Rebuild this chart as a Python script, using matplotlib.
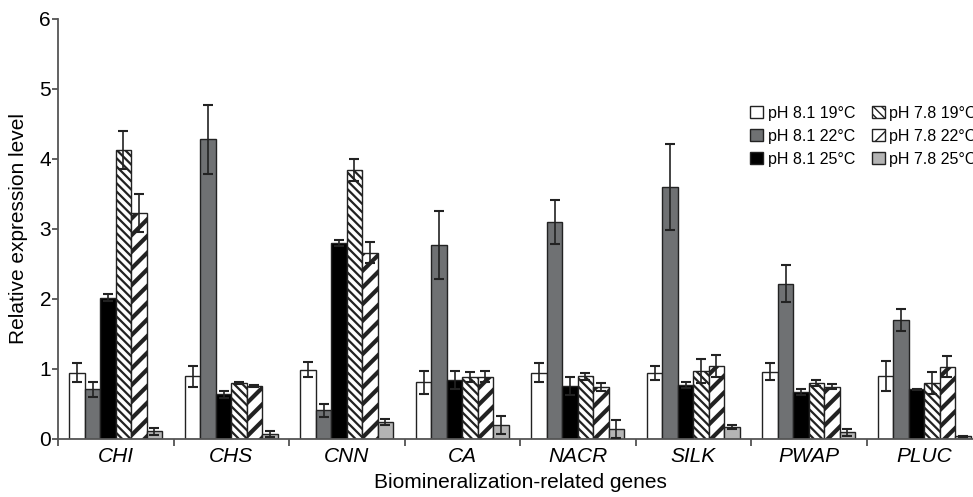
import matplotlib
matplotlib.use("Agg")
import matplotlib.pyplot as plt
import numpy as np

plt.rcParams['font.family'] = ['Liberation Sans', 'DejaVu Sans']

# gene categories
genes = ['CHI', 'CHS', 'CNN', 'CA', 'NACR', 'SILK', 'PWAP', 'PLUC']
labels = ['pH 8.1 19°C', 'pH 8.1 22°C', 'pH 8.1 25°C',
          'pH 7.8 19°C', 'pH 7.8 22°C', 'pH 7.8 25°C']

# mean relative expression per treatment
ph81_19 = [0.95, 0.90, 0.99, 0.81, 0.95, 0.95, 0.96, 0.90]
ph81_22 = [0.71, 4.28, 0.41, 2.77, 3.10, 3.60, 2.22, 1.70]
ph81_25 = [2.02, 0.64, 2.80, 0.84, 0.76, 0.77, 0.67, 0.71]
ph78_19 = [4.13, 0.80, 3.84, 0.89, 0.90, 0.97, 0.80, 0.80]
ph78_22 = [3.23, 0.76, 2.66, 0.89, 0.74, 1.04, 0.75, 1.03]
ph78_25 = [0.11, 0.07, 0.24, 0.20, 0.14, 0.17, 0.10, 0.04]

# error bars
err81_19 = [0.14, 0.15, 0.11, 0.16, 0.14, 0.10, 0.12, 0.22]
err81_22 = [0.11, 0.49, 0.09, 0.49, 0.31, 0.61, 0.26, 0.16]
err81_25 = [0.05, 0.05, 0.04, 0.13, 0.13, 0.04, 0.04, 0.01]
err78_19 = [0.27, 0.01, 0.16, 0.07, 0.05, 0.17, 0.04, 0.16]
err78_22 = [0.27, 0.01, 0.15, 0.08, 0.06, 0.16, 0.03, 0.15]
err78_25 = [0.05, 0.04, 0.04, 0.13, 0.13, 0.03, 0.05, 0.01]

series = [ph81_19, ph81_22, ph81_25, ph78_19, ph78_22, ph78_25]
errors = [err81_19, err81_22, err81_25, err78_19, err78_22, err78_25]
colors = ['white', '#6f7173', 'black', 'white', 'white', '#b4b4b4']
hatches = [None, None, None, '\\\\\\\\', '//', None]
hatch_lw = [1, 1, 1, 1.6, 3.0, 1]

fig = plt.figure(figsize=(9.73, 4.97), dpi=100)
# axes runs a little past the right edge, like the cropped original
ax = fig.add_axes([58 / 973, 58 / 497, 924 / 973, 420 / 497])

x = np.arange(len(genes))
w = 0.134
for i, (vals, err) in enumerate(zip(series, errors)):
    pos = x + (i - 2.5) * w
    plt.rcParams['hatch.linewidth'] = hatch_lw[i]
    bars = ax.bar(pos, vals, w, color=colors[i], edgecolor='#222222',
                  linewidth=1.0, hatch=hatches[i], label=labels[i], zorder=2)
    if hatches[i] is not None:
        for b in bars:
            if hasattr(b, 'set_hatch_linewidth'):
                b.set_hatch_linewidth(hatch_lw[i])
    ax.errorbar(pos, vals, yerr=err, fmt='none', ecolor='#222222',
                elinewidth=1.2, capsize=3.5, capthick=1.5, zorder=3)

ax.set_xlim(-0.5, len(genes) - 0.5)
ax.set_ylim(0, 6)
ax.set_yticks(range(7))
ax.set_xticks(np.arange(len(genes) + 1) - 0.5)
ax.set_xticklabels([])
ax.set_xticks(x, minor=True)
ax.set_xticklabels(genes, minor=True, style='italic', fontsize=15)
ax.tick_params(axis='x', which='minor', length=0, pad=6)
ax.tick_params(axis='x', which='major', length=5, width=1.2, color='#444444')
ax.tick_params(axis='y', labelsize=15, length=4, width=1.2, color='#444444', pad=1)

for s in ['top', 'right']:
    ax.spines[s].set_visible(False)
for s in ['left', 'bottom']:
    ax.spines[s].set_color('#555555')
    ax.spines[s].set_linewidth(1.3)

ax.set_ylabel('Relative expression level', fontsize=15)
ax.yaxis.set_label_coords(-0.032, 0.5)
ax.set_xlabel('Biomineralization-related genes', fontsize=15)
ax.xaxis.set_label_coords(0.5, -0.08)

ax.legend(ncol=2, loc='upper left', bbox_to_anchor=(0.749, 0.793),
          frameon=False, fontsize=11.5, handlelength=0.8, handleheight=0.8,
          handletextpad=0.3, columnspacing=1.05, labelspacing=0.5,
          borderpad=0, borderaxespad=0)

fig.savefig('out.png', dpi=100)
